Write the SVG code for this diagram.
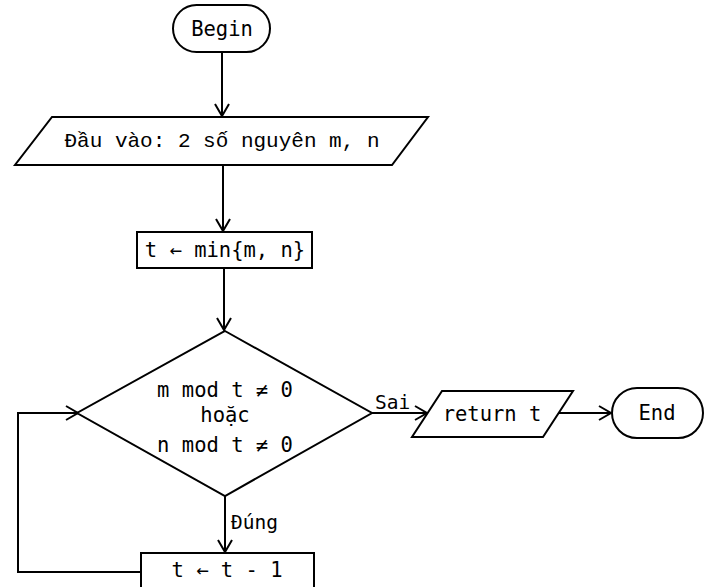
<svg xmlns="http://www.w3.org/2000/svg" width="717" height="587" viewBox="0 0 717 587">
<style>
.s{fill:#fff;stroke:#000;stroke-width:2}
.t{font-family:"DejaVu Sans Mono","Liberation Mono",monospace;font-size:20.5px;fill:#000;text-anchor:middle}
.v{font-family:"Liberation Mono","DejaVu Sans Mono",monospace;font-size:21px;fill:#000;text-anchor:middle}
.l{font-family:"DejaVu Sans Mono","Liberation Mono",monospace;font-size:19.5px;fill:#000}
.c{fill:none;stroke:#000;stroke-width:2}
</style>
<defs>
<marker id="a" markerUnits="userSpaceOnUse" markerWidth="16" markerHeight="16" refX="13" refY="8" orient="auto">
<path d="M1,1 L13,8 L1,15" fill="none" stroke="#000" stroke-width="2"/>
</marker>
</defs>
<rect width="717" height="587" fill="#fff"/>
<g id="connectors">
<line class="c" x1="222" y1="52" x2="222" y2="116" marker-end="url(#a)"/>
<line class="c" x1="223" y1="165" x2="223" y2="231" marker-end="url(#a)"/>
<line class="c" x1="224" y1="268" x2="224" y2="330" marker-end="url(#a)"/>
<line class="c" x1="372" y1="413" x2="427" y2="413" marker-end="url(#a)"/>
<line class="c" x1="558" y1="413" x2="611" y2="413" marker-end="url(#a)"/>
<line class="c" x1="225" y1="496" x2="225" y2="552" marker-end="url(#a)"/>
<polyline class="c" points="141,572 18,572 18,413 78,413" marker-end="url(#a)"/>
<text class="l" x="375" y="409">Sai</text>
<text class="l" x="231" y="529">Đúng</text>
</g>
<g id="begin">
<rect class="s" x="173" y="5" width="97" height="47" rx="23.5"/>
<text class="t" x="222" y="36">Begin</text>
</g>
<g id="input">
<polygon class="s" points="52,117 428,117 392,165 15,165"/>
<text class="v" x="222" y="147">Đầu vào: 2 số nguyên m, n</text>
</g>
<g id="init">
<rect class="s" x="137" y="232" width="175" height="36"/>
<text class="t" x="225" y="257">t ← min{m, n}</text>
</g>
<g id="decision">
<polygon class="s" points="225,331 372,413 225,496 77,413"/>
<text class="t" x="225" y="397">m mod t ≠ 0</text>
<text class="t" x="225" y="422">hoặc</text>
<text class="t" x="225" y="452">n mod t ≠ 0</text>
</g>
<g id="return">
<polygon class="s" points="442,391 573,391 543,437 412,437"/>
<text class="t" x="492" y="421">return t</text>
</g>
<g id="end">
<rect class="s" x="612" y="388" width="91" height="50" rx="25"/>
<text class="t" x="657" y="420">End</text>
</g>
<g id="decrement">
<rect class="s" x="141" y="553" width="173" height="45"/>
<text class="t" x="227" y="577">t ← t - 1</text>
</g>
</svg>
